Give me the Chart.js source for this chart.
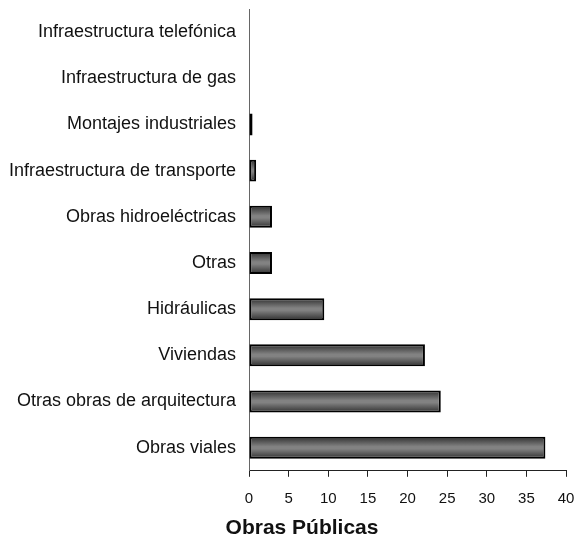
<!DOCTYPE html>
<html>
<head>
<meta charset="utf-8">
<script src="https://cdn.jsdelivr.net/npm/chart.js@4/dist/chart.umd.min.js"></script>
<style>
html,body{margin:0;padding:0;background:#fff;}
#wrap{width:574px;height:544px;position:relative;}
</style>
</head>
<body>
<div id="wrap"><canvas id="c" width="574" height="544"></canvas></div>
<script>
const categories = [
  "Infraestructura telefónica",
  "Infraestructura de gas",
  "Montajes industriales",
  "Infraestructura de transporte",
  "Obras hidroeléctricas",
  "Otras",
  "Hidráulicas",
  "Viviendas",
  "Otras obras de arquitectura",
  "Obras viales"
];
const values = [0, 0, 0.45, 0.9, 2.9, 2.9, 9.5, 22.2, 24.2, 37.4];
const xTicks = [0, 5, 10, 15, 20, 25, 30, 35, 40];
const chartTitle = "Obras Públicas";

const FONT = "'Liberation Sans', Arial, sans-serif";
const BAR_PCT = 0.476;

function barGradient(ctx) {
  const chart = ctx.chart;
  const ys = chart.scales && chart.scales.y;
  if (!ys || !chart.chartArea || ctx.type !== 'data') return '#666';
  const c = ys.getPixelForValue(ctx.dataIndex);
  const h = (ys.height / categories.length) * BAR_PCT;
  const g = chart.ctx.createLinearGradient(0, c - h / 2, 0, c + h / 2);
  g.addColorStop(0, '#2e2e2e');
  g.addColorStop(0.45, '#828282');
  g.addColorStop(0.55, '#828282');
  g.addColorStop(1, '#303030');
  return g;
}

const titleShift = {
  id: 'titleShift',
  afterLayout(chart) {
    if (chart.titleBlock) { chart.titleBlock.left = 30; }
  }
};

new Chart(document.getElementById('c'), {
  type: 'bar',
  data: {
    labels: categories,
    datasets: [{
      data: values,
      backgroundColor: barGradient,
      borderColor: '#000',
      borderWidth: 2,
      borderSkipped: false,
      categoryPercentage: 1,
      barPercentage: BAR_PCT
    }]
  },
  plugins: [titleShift],
  options: {
    indexAxis: 'y',
    responsive: false,
    animation: false,
    devicePixelRatio: 1,
    layout: { padding: { left: 0, top: 9, right: 0, bottom: 0 } },
    plugins: {
      legend: { display: false },
      tooltip: { enabled: false },
      title: {
        display: true,
        text: chartTitle,
        position: 'bottom',
        color: '#111',
        font: { family: FONT, size: 21, weight: 'bold', lineHeight: 1.2 },
        padding: { top: 10, bottom: 3 }
      }
    },
    scales: {
      x: {
        type: 'linear',
        min: 0,
        max: 40,
        afterBuildTicks: (s) => { s.ticks = xTicks.map(v => ({ value: v })); },
        afterFit: (s) => { s.height = 35; s.paddingLeft = 0; s.paddingRight = 8; },
        grid: {
          drawOnChartArea: false,
          drawTicks: true,
          tickLength: 6,
          tickColor: '#222',
          lineWidth: 1
        },
        border: { display: true, color: '#222', width: 1 },
        ticks: {
          color: '#111',
          padding: 13,
          maxRotation: 0,
          autoSkip: false,
          font: { family: FONT, size: 15 }
        }
      },
      y: {
        type: 'category',
        offset: true,
        afterFit: (s) => { s.width = 249; s.paddingTop = 0; s.paddingBottom = 0; },
        grid: { display: false, drawTicks: false },
        border: { display: true, color: '#666', width: 1 },
        ticks: {
          color: '#111',
          padding: 13,
          autoSkip: false,
          font: { family: FONT, size: 18 }
        }
      }
    }
  }
});
</script>
</body>
</html>
